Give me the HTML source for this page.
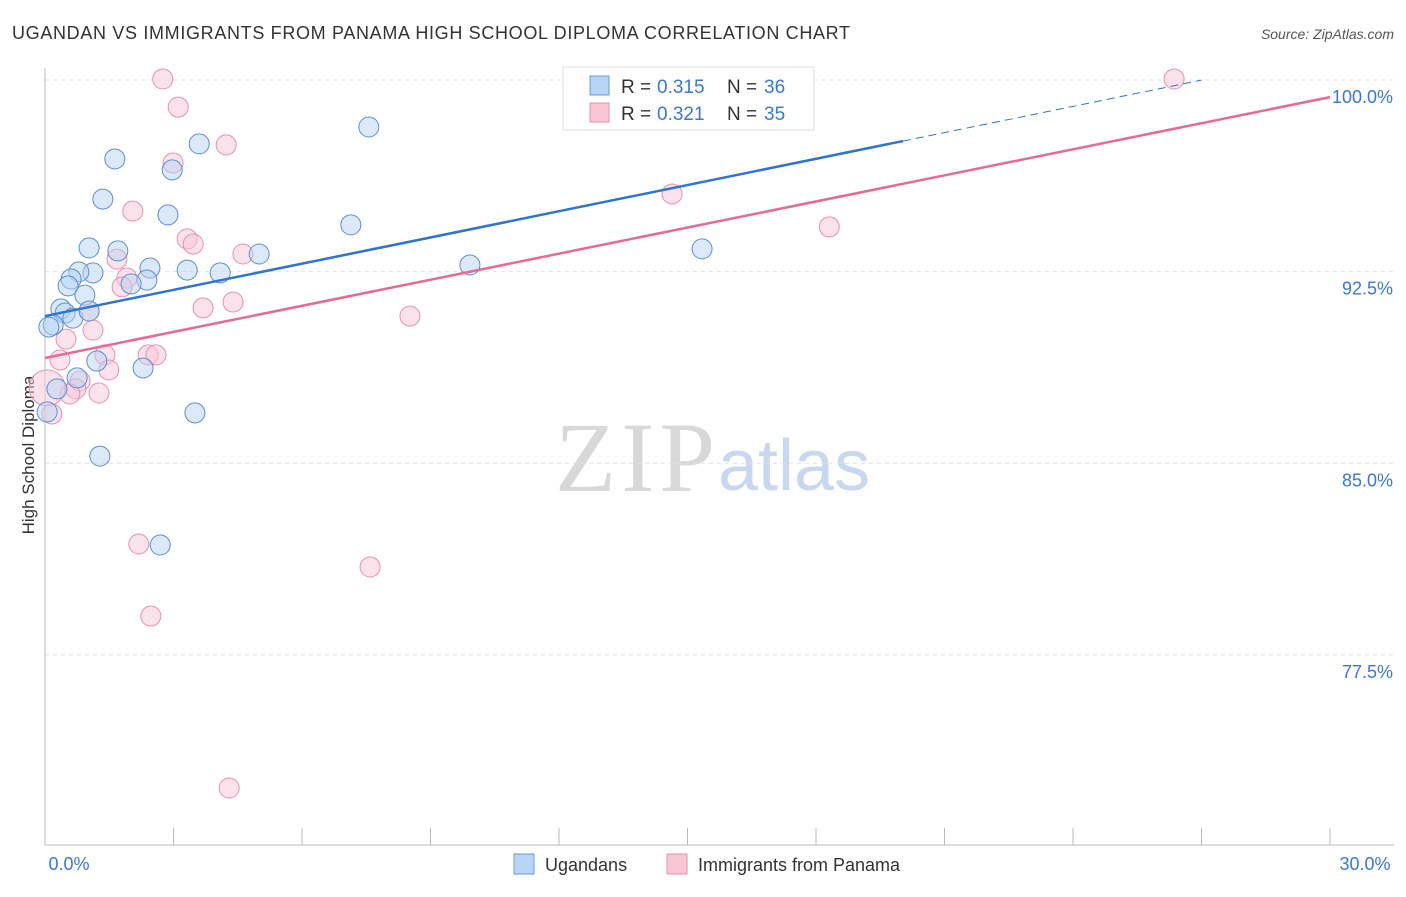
<!DOCTYPE html>
<html><head><meta charset="utf-8"><style>
body{margin:0;background:#fff;font-family:"Liberation Sans",sans-serif}
svg text{font-family:"Liberation Sans",sans-serif}
</style></head><body>
<svg id="c" width="1406" height="892">
<text x="12" y="39" font-size="18" fill="#333" textLength="838">UGANDAN VS IMMIGRANTS FROM PANAMA HIGH SCHOOL DIPLOMA CORRELATION CHART</text>
<text x="1394" y="39" font-size="14" fill="#555" text-anchor="end" font-style="italic">Source: ZipAtlas.com</text>
<text x="0" y="0" transform="translate(34,455) rotate(-90)" font-size="17" fill="#333" text-anchor="middle">High School Diploma</text>
<g><text x="555" y="491" font-size="100" fill="#d8d8d8" style="font-family:'Liberation Serif',serif" textLength="160">ZIP</text><text x="718" y="490" font-size="72" fill="#c8d8f0">atlas</text></g>
<g id="grid"></g><g id="marks"></g>
<g>
<rect x="563" y="67" width="251" height="63" fill="#fff" stroke="#ddd"/>
<rect x="590" y="76" width="19" height="19" fill="#b8d4f5" stroke="#6a9ad8"/>
<text x="621" y="93" font-size="19" fill="#333">R =</text><text x="657" y="93" font-size="19" fill="#3a78d4">0.315</text>
<text x="727" y="93" font-size="19" fill="#333">N =</text><text x="764" y="93" font-size="19" fill="#3a78d4">36</text>
<rect x="590" y="103" width="19" height="19" fill="#f9c6d6" stroke="#e890ac"/>
<text x="621" y="120" font-size="19" fill="#333">R =</text><text x="657" y="120" font-size="19" fill="#3a78d4">0.321</text>
<text x="727" y="120" font-size="19" fill="#333">N =</text><text x="764" y="120" font-size="19" fill="#3a78d4">35</text>
</g>
<g>
<rect x="514" y="854" width="20" height="20" fill="#b8d4f5" stroke="#6a9ad8"/>
<text x="545" y="871" font-size="18" fill="#333">Ugandans</text>
<rect x="667" y="854" width="20" height="20" fill="#f9c6d6" stroke="#e890ac"/>
<text x="698" y="871" font-size="18" fill="#333">Immigrants from Panama</text>
</g>
</svg>
<script>
const yTicks=[100,92.5,85,77.5];
const yTickLabels=["100.0%","92.5%","85.0%","77.5%"];
const blueX=[1.63,3.60,7.56,2.97,1.35,2.87,7.14,1.03,1.70,2.45,3.32,4.09,5.00,9.92,15.34,1.12,0.79,0.61,0.54,2.38,2.01,0.93,0.37,0.47,0.65,1.03,0.19,0.09,1.21,2.29,0.75,0.28,3.50,0.05,1.28,2.69];
const blueY=[96.91,97.50,98.16,96.48,95.34,94.72,94.33,93.43,93.31,92.64,92.56,92.45,93.19,92.76,93.39,92.45,92.49,92.21,91.94,92.17,92.02,91.58,91.04,90.88,90.68,90.96,90.41,90.33,89.00,88.73,88.34,87.91,86.97,87.01,85.28,81.80];
const pinkX=[2.75,26.36,3.11,4.23,2.99,2.05,3.32,3.46,4.62,18.31,14.64,1.68,1.91,1.80,4.39,3.69,8.52,1.03,1.12,0.49,0.35,1.40,2.41,2.59,1.49,0.82,0.72,1.26,0.58,0.05,0.16,2.19,7.59,2.47,4.30];
const pinkY=[100.04,100.04,98.94,97.46,96.75,94.87,93.78,93.58,93.19,94.25,95.54,92.99,92.25,91.90,91.31,91.08,90.76,90.96,90.21,89.86,89.04,89.24,89.24,89.24,88.65,88.22,87.91,87.75,87.71,87.95,86.93,81.84,80.94,79.02,72.29];
const blueTrend=[90.76,97.61,20.03,27.0];
const pinkTrend=[89.12,99.33];
const NS="http://www.w3.org/2000/svg";
const sx=v=>45+v/30*1285, sy=v=>80+(100-v)*25.55;
const svg=document.getElementById('c'),grid=document.getElementById('grid'),marks=document.getElementById('marks');
function mk(tag,a,p){const e=document.createElementNS(NS,tag);for(const k in a)e.setAttribute(k,a[k]);(p||svg).appendChild(e);return e;}
yTicks.forEach((t,i)=>{
 const l=mk('line',{x1:45,x2:1394,y1:sy(t),y2:sy(t),stroke:'#e2e2e2','stroke-dasharray':'4,4'},grid);
 
 
 const tx=mk('text',{x:1393,y:sy(t)+23,'font-size':18,fill:'#3a78d4','text-anchor':'end'},grid);tx.textContent=yTickLabels[i];
 
 
});
const ax=mk('line',{x1:45,x2:45,y1:68,y2:845,stroke:'#bbb'},grid);


const bx=mk('line',{x1:45,x2:1394,y1:845,y2:845,stroke:'#bbb'},grid);


for(let i=0;i<=10;i++){const t=mk('line',{x1:sx(i*3),x2:sx(i*3),y1:828,y2:845,stroke:'#bbb'},grid);
 
 }
[[0,'0.0%',69],[30,'30.0%',1365]].forEach(d=>{const t=mk('text',{x:d[2],y:870,'font-size':18,fill:'#3a78d4','text-anchor':'middle'},grid);t.textContent=d[1];
 
 });
function pts(X,Y,fill,stroke,name){X.forEach((x,i)=>{const r=(x<0.1&&Math.abs(Y[i]-87.95)<0.05)?18:10;
 const c=mk('circle',{cx:sx(x),cy:sy(Y[i]),r:r,fill:fill,'fill-opacity':0.5,stroke:stroke,'stroke-width':1},marks);
 
 });}
pts(pinkX,pinkY,'#f9c6d6','#e890ac','panama-point');
pts(blueX,blueY,'#b8d4f5','#5b8fd8','ugandan-point');
const slope=(blueTrend[1]-blueTrend[0])/blueTrend[2];
const bl=mk('line',{x1:sx(0),y1:sy(blueTrend[0]),x2:sx(blueTrend[2]),y2:sy(blueTrend[1]),stroke:'#2f74d0','stroke-width':2.5},marks);


const bd=mk('line',{x1:sx(blueTrend[2]),y1:sy(blueTrend[1]),x2:sx(blueTrend[3]),y2:sy(blueTrend[0]+slope*blueTrend[3]),stroke:'#2f74d0','stroke-width':1,'stroke-dasharray':'8,5'},marks);


const pl=mk('line',{x1:sx(0),y1:sy(pinkTrend[0]),x2:sx(30),y2:sy(pinkTrend[1]),stroke:'#e66a96','stroke-width':2.5},marks);


</script>
</body></html>
